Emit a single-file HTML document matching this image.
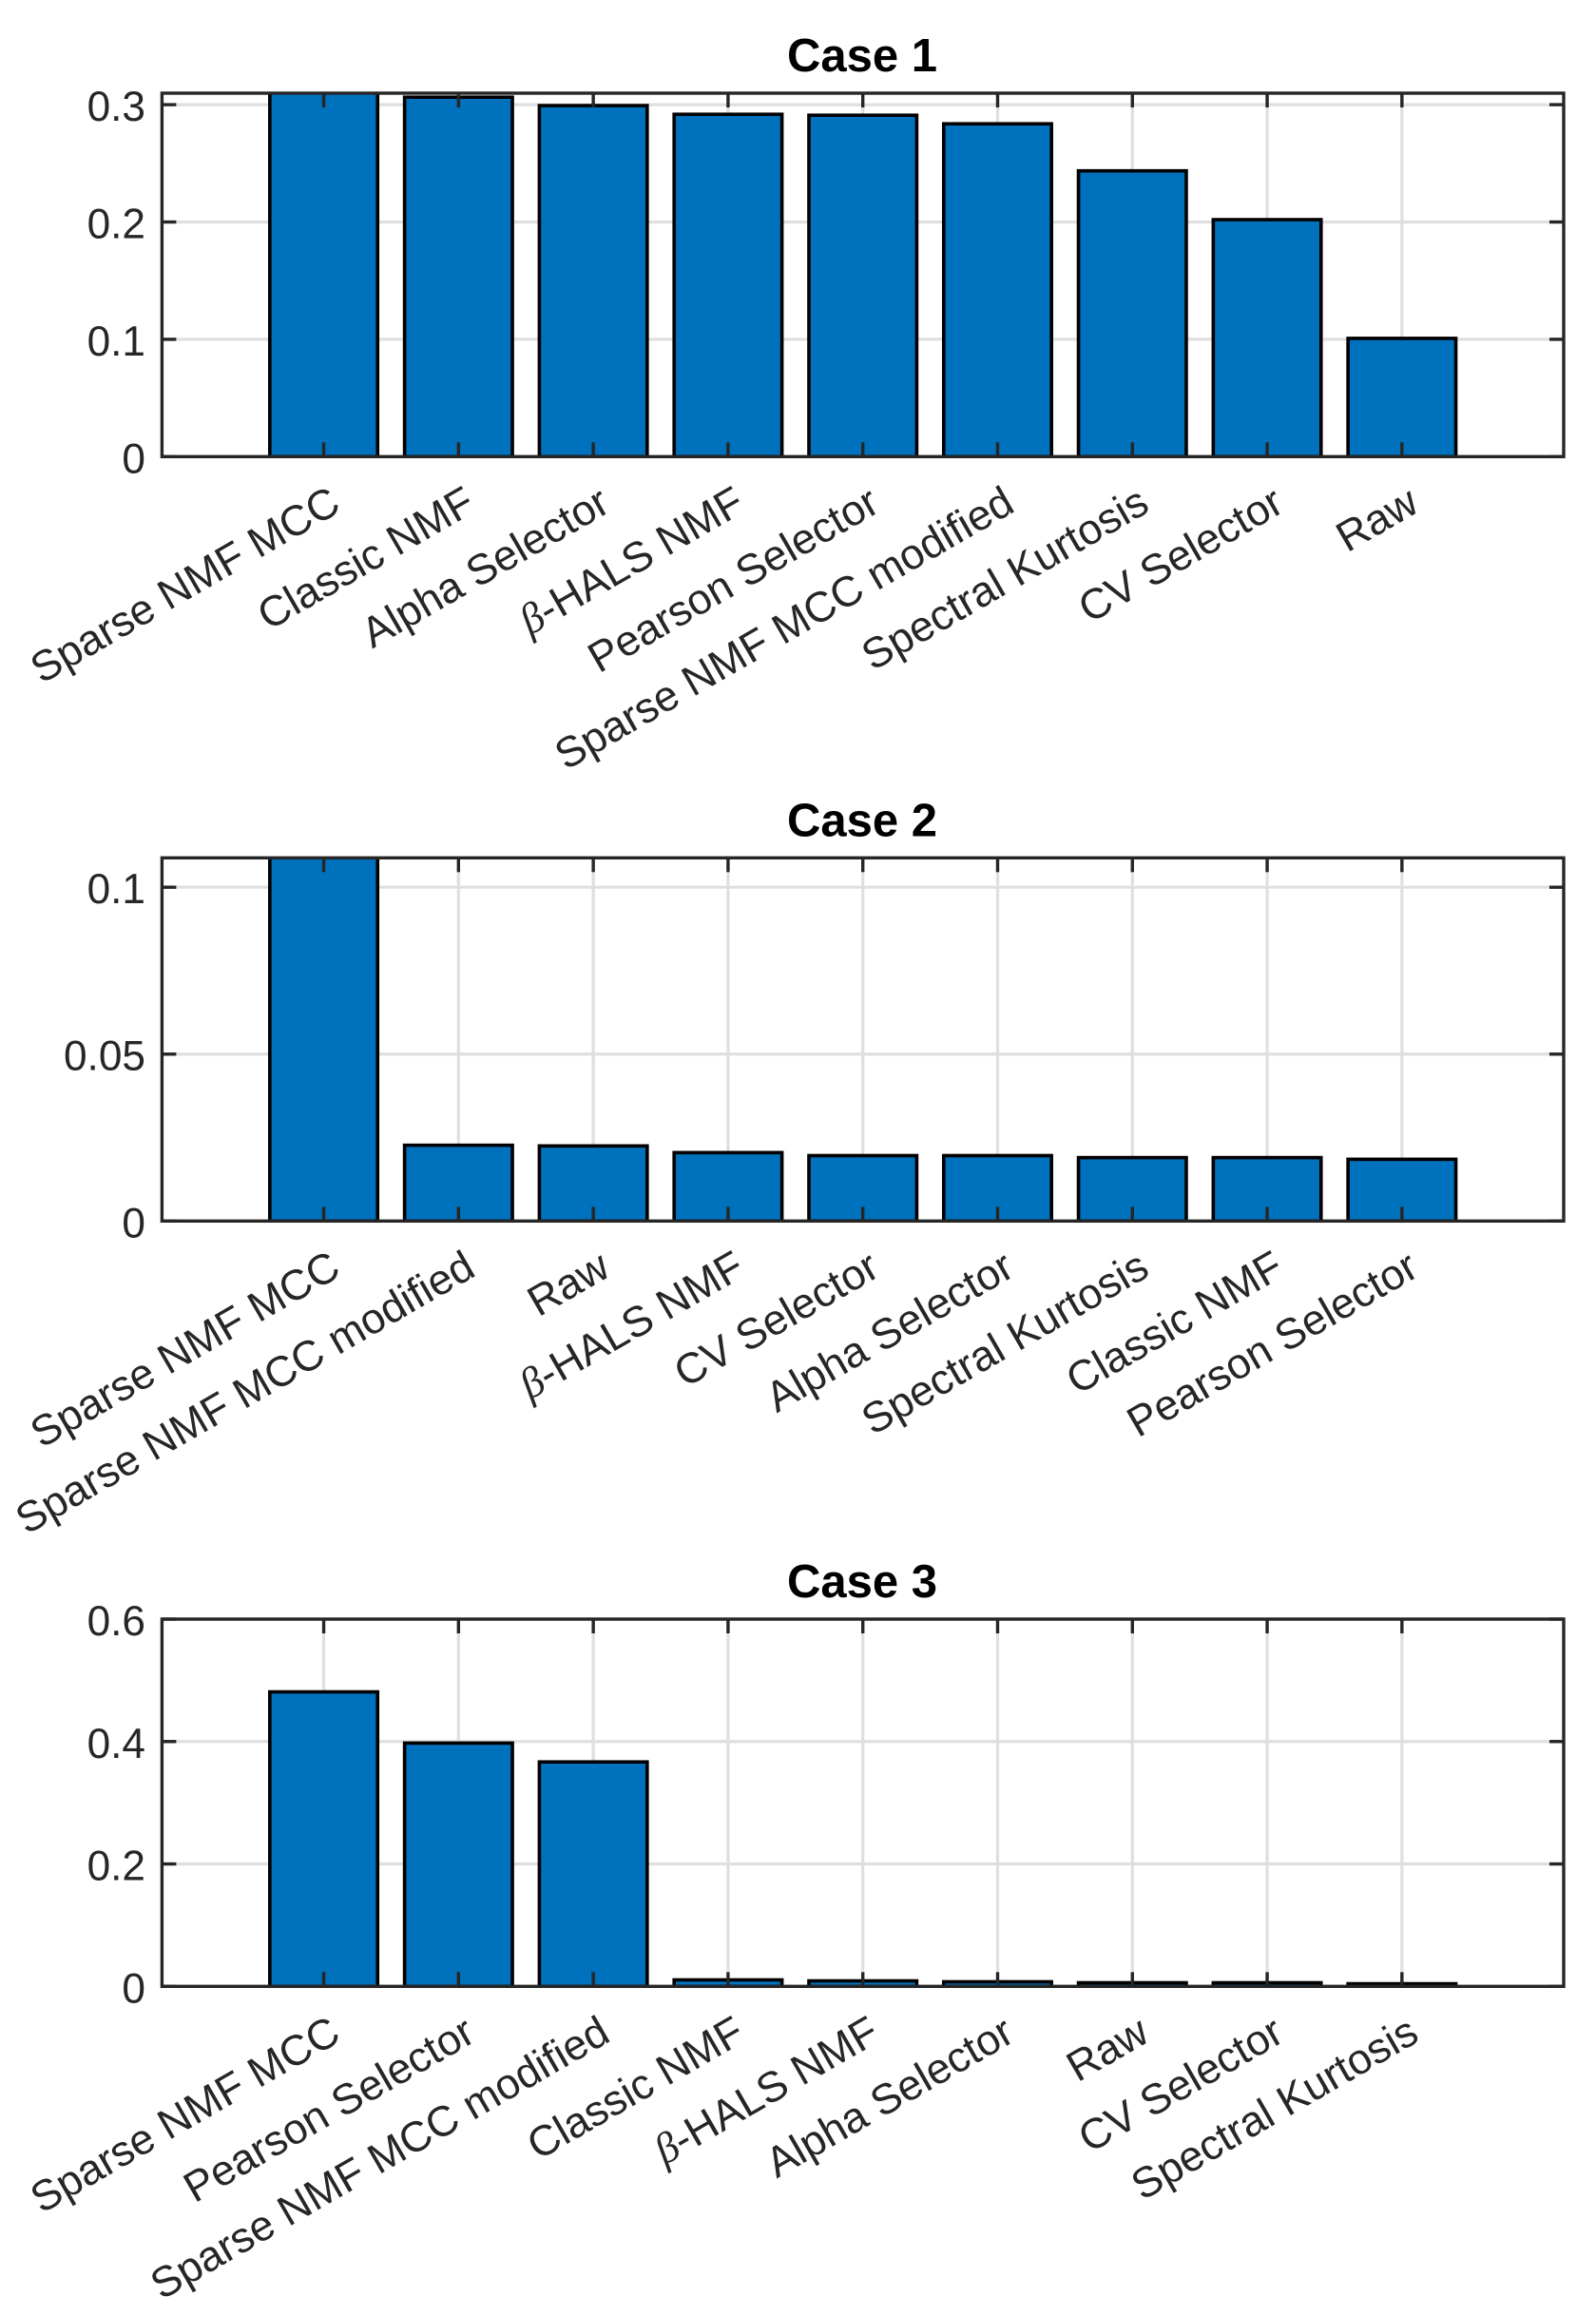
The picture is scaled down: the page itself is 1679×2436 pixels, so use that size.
<!DOCTYPE html>
<html lang="en">
<head>
<meta charset="utf-8">
<title>Case comparison bar charts</title>
<style>
  html, body { margin: 0; padding: 0; background: #fff; width: 1679px; height: 2436px; overflow: hidden; }
  svg { display: block; }
  text { font-family: "Liberation Sans", sans-serif; }
  .tick-label { font-size: 44.8px; fill: #262626; }
  .y-label { font-size: 44.2px; }
  .title { font-size: 49px; font-weight: bold; fill: #000; text-anchor: middle; }
  .beta { font-family: "Liberation Serif", serif; font-style: italic; }
</style>
</head>
<body>
<svg id="figure" xmlns="http://www.w3.org/2000/svg" width="1679" height="2436" viewBox="0 0 1679 2436"></svg>
<script>
const case1Categories = ["Sparse NMF MCC", "Classic NMF", "Alpha Selector", "β-HALS NMF", "Pearson Selector", "Sparse NMF MCC modified", "Spectral Kurtosis", "CV Selector", "Raw"];
const case1Values = [0.312, 0.3064, 0.2992, 0.2918, 0.2910, 0.2837, 0.2436, 0.2020, 0.1008];
const case1YTicks = [0, 0.1, 0.2, 0.3];
const case1YTickLabels = ["0", "0.1", "0.2", "0.3"];
const case1YLimit = [0, 0.3098];

const case2Categories = ["Sparse NMF MCC", "Sparse NMF MCC modified", "Raw", "β-HALS NMF", "CV Selector", "Alpha Selector", "Spectral Kurtosis", "Classic NMF", "Pearson Selector"];
const case2Values = [0.112, 0.0227, 0.0225, 0.0205, 0.0196, 0.0196, 0.0190, 0.0190, 0.0185];
const case2YTicks = [0, 0.05, 0.1];
const case2YTickLabels = ["0", "0.05", "0.1"];
const case2YLimit = [0, 0.1088];

const case3Categories = ["Sparse NMF MCC", "Pearson Selector", "Sparse NMF MCC modified", "Classic NMF", "β-HALS NMF", "Alpha Selector", "Raw", "CV Selector", "Spectral Kurtosis"];
const case3Values = [0.4811, 0.3975, 0.3667, 0.0106, 0.0090, 0.0075, 0.0059, 0.0059, 0.0043];
const case3YTicks = [0, 0.2, 0.4, 0.6];
const case3YTickLabels = ["0", "0.2", "0.4", "0.6"];
const case3YLimit = [0, 0.6];

const xLimit = [-0.2, 10.2];
const barWidth = 0.8;
const svgNS = "http://www.w3.org/2000/svg";
const figure = document.getElementById("figure");
const axisColor = "#262626";
const gridColor = "#dfdfdf";
const tickLength = 15;
const axLeft = 170.4;
const axRight = 1645;

function xScale(v) {
  return axLeft + (v - xLimit[0]) / (xLimit[1] - xLimit[0]) * (axRight - axLeft);
}

function makeLine(parent, x1, y1, x2, y2, color, width) {
  const l = document.createElementNS(svgNS, "line");
  l.setAttribute("x1", x1);
  l.setAttribute("y1", y1);
  l.setAttribute("x2", x2);
  l.setAttribute("y2", y2);
  l.setAttribute("stroke", color);
  l.setAttribute("stroke-width", width);
  parent.appendChild(l);
  return l;
}

function drawChart(index, title, categories, values, yTicks, yTickLabels, yLimit, top, bottom) {
  const yScale = function (v) {
    return bottom - (v - yLimit[0]) / (yLimit[1] - yLimit[0]) * (bottom - top);
  };

  const g = document.createElementNS(svgNS, "g");
  
  
  figure.appendChild(g);

  const clip = document.createElementNS(svgNS, "clipPath");
  clip.setAttribute("id", "plot-clip-" + index);
  const clipRect = document.createElementNS(svgNS, "rect");
  clipRect.setAttribute("x", axLeft);
  clipRect.setAttribute("y", top);
  clipRect.setAttribute("width", axRight - axLeft);
  clipRect.setAttribute("height", bottom - top);
  clip.appendChild(clipRect);
  g.appendChild(clip);

  const titleEl = document.createElementNS(svgNS, "text");
  titleEl.setAttribute("class", "title");
  titleEl.setAttribute("x", 907);
  titleEl.setAttribute("y", top - 23);
  titleEl.textContent = title;
  
  
  g.appendChild(titleEl);

  yTicks.forEach(function (t) {
    const line = makeLine(g, axLeft, yScale(t), axRight, yScale(t), gridColor, 3.2);
    
    
  });
  categories.forEach(function (c, i) {
    const line = makeLine(g, xScale(i + 1), top, xScale(i + 1), bottom, gridColor, 3.2);
    
    
  });

  values.forEach(function (v, i) {
    const x0 = xScale(i + 1 - barWidth / 2);
    const x1 = xScale(i + 1 + barWidth / 2);
    const r = document.createElementNS(svgNS, "rect");
    r.setAttribute("x", x0);
    r.setAttribute("y", yScale(v));
    r.setAttribute("width", x1 - x0);
    r.setAttribute("height", yScale(0) - yScale(v));
    r.setAttribute("fill", "#0071bc");
    r.setAttribute("stroke", "#000");
    r.setAttribute("stroke-width", 3.6);
    r.setAttribute("clip-path", "url(#plot-clip-" + index + ")");
    
    
    g.appendChild(r);
  });

  const box = document.createElementNS(svgNS, "rect");
  box.setAttribute("x", axLeft);
  box.setAttribute("y", top);
  box.setAttribute("width", axRight - axLeft);
  box.setAttribute("height", bottom - top);
  box.setAttribute("fill", "none");
  box.setAttribute("stroke", axisColor);
  box.setAttribute("stroke-width", 3.4);
  
  
  g.appendChild(box);

  yTicks.forEach(function (t, i) {
    const y = yScale(t);
    const tickA = makeLine(g, axLeft, y, axLeft + tickLength, y, axisColor, 3.4);
    
    
    const tickB = makeLine(g, axRight, y, axRight - tickLength, y, axisColor, 3.4);
    
    
    const label = document.createElementNS(svgNS, "text");
    label.setAttribute("class", "tick-label y-label");
    label.setAttribute("x", 153);
    label.setAttribute("y", y + 17);
    label.setAttribute("text-anchor", "end");
    label.textContent = yTickLabels[i];
    
    
    g.appendChild(label);
  });

  categories.forEach(function (c, i) {
    const x = xScale(i + 1);
    const tickA = makeLine(g, x, bottom, x, bottom - tickLength, axisColor, 3.4);
    
    
    const tickB = makeLine(g, x, top, x, top + tickLength, axisColor, 3.4);
    
    

    const lx = x + 20;
    const ly = bottom + 56.5;
    const label = document.createElementNS(svgNS, "text");
    label.setAttribute("class", "tick-label");
    label.setAttribute("x", lx);
    label.setAttribute("y", ly);
    label.setAttribute("text-anchor", "end");
    label.setAttribute("transform", "rotate(-30 " + lx + " " + ly + ")");
    
    
    if (c.charAt(0) === "β") {
      const beta = document.createElementNS(svgNS, "tspan");
      beta.setAttribute("class", "beta");
      beta.textContent = "β";
      label.appendChild(beta);
      label.appendChild(document.createTextNode(c.slice(1)));
    } else {
      label.textContent = c;
    }
    g.appendChild(label);
  });
}

drawChart(1, "Case 1", case1Categories, case1Values, case1YTicks, case1YTickLabels, case1YLimit, 98, 480.3);
drawChart(2, "Case 2", case2Categories, case2Values, case2YTicks, case2YTickLabels, case2YLimit, 902.3, 1284.3);
drawChart(3, "Case 3", case3Categories, case3Values, case3YTicks, case3YTickLabels, case3YLimit, 1703, 2089.3);
</script>
</body>
</html>
